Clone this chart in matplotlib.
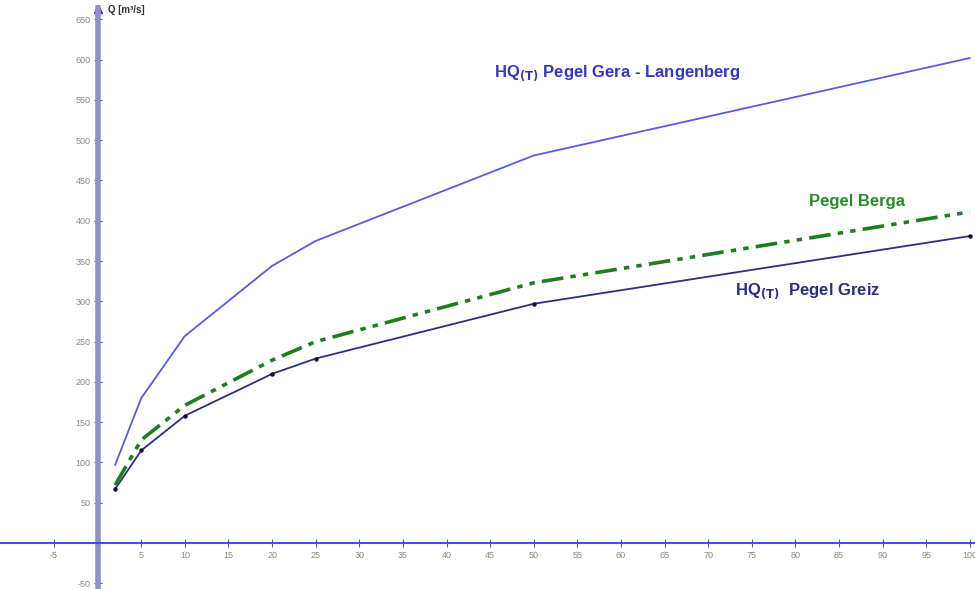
import matplotlib.pyplot as plt
import numpy as np

plt.rcParams['font.family'] = ['Liberation Sans', 'DejaVu Sans']
plt.rcParams['axes.unicode_minus'] = False

# return period T [years]
T = [2, 5, 10, 20, 25, 50, 100]
gera = [97, 180, 257, 344, 375, 481, 602]
greiz = [67, 115, 158, 210, 229, 297, 381]
berga = [72, 128, 171, 227, 250, 323, 411]

x_ticks = [-5] + list(range(5, 101, 5))
y_ticks = [-50] + list(range(50, 651, 50))

fig = plt.figure(figsize=(9.75, 5.89), dpi=100)
ax = fig.add_axes([0, 0, 1, 1])
ax.set_xlim(-11.2, 100.6)
ax.set_ylim(-57, 674)

ax.plot(T, gera, color='#5a5ae0', lw=1.3)
ax.plot(T, greiz, color='#2e2e80', lw=1.3, marker='o', ms=2.2,
        mfc='#111133', mec='#111133')
ax.plot(T, berga, color='#1e7d1e', lw=2.6, dashes=(6, 2, 1.5, 2, 1.5, 2))

# axes through the origin
for s in ['top', 'right']:
    ax.spines[s].set_visible(False)
ax.spines['left'].set_position(('data', 0))
ax.spines['bottom'].set_position(('data', 0))
ax.spines['left'].set_bounds(-57, 664)
ax.spines['left'].set_color('#9090c8')
ax.spines['left'].set_linewidth(4)
ax.spines['bottom'].set_color('#4848f0')
ax.spines['bottom'].set_linewidth(1.5)
ax.plot(0, 663, marker='^', color='#3030c0', ms=6, clip_on=False)

ax.set_xticks(x_ticks)
ax.set_yticks(y_ticks)
ax.tick_params(axis='x', direction='inout', length=6, color='#5050e0',
               labelsize=6.5, labelcolor='#888888', pad=3)
ax.tick_params(axis='y', direction='inout', length=6, color='#5050a0',
               labelsize=6.5, labelcolor='#888888', pad=2)

ax.text(1.2, 661, 'Q [m³/s]', fontsize=7, fontweight='bold', color='#333333',
        va='center', ha='left')

ax.text(45.5, 583, r'HQ$_{\mathbf{(T)}}$ Pegel Gera - Langenberg', fontsize=12,
        fontweight='bold', color='#3535c8', va='center', ha='left')
ax.text(81.6, 424, 'Pegel Berga', fontsize=12, fontweight='bold',
        color='#2a8a2a', va='center', ha='left')
ax.text(73.1, 313, r'HQ$_{\mathbf{(T)}}$  Pegel Greiz', fontsize=12,
        fontweight='bold', color='#2c2c88', va='center', ha='left')

fig.savefig('out.png', dpi=100, facecolor='white')
